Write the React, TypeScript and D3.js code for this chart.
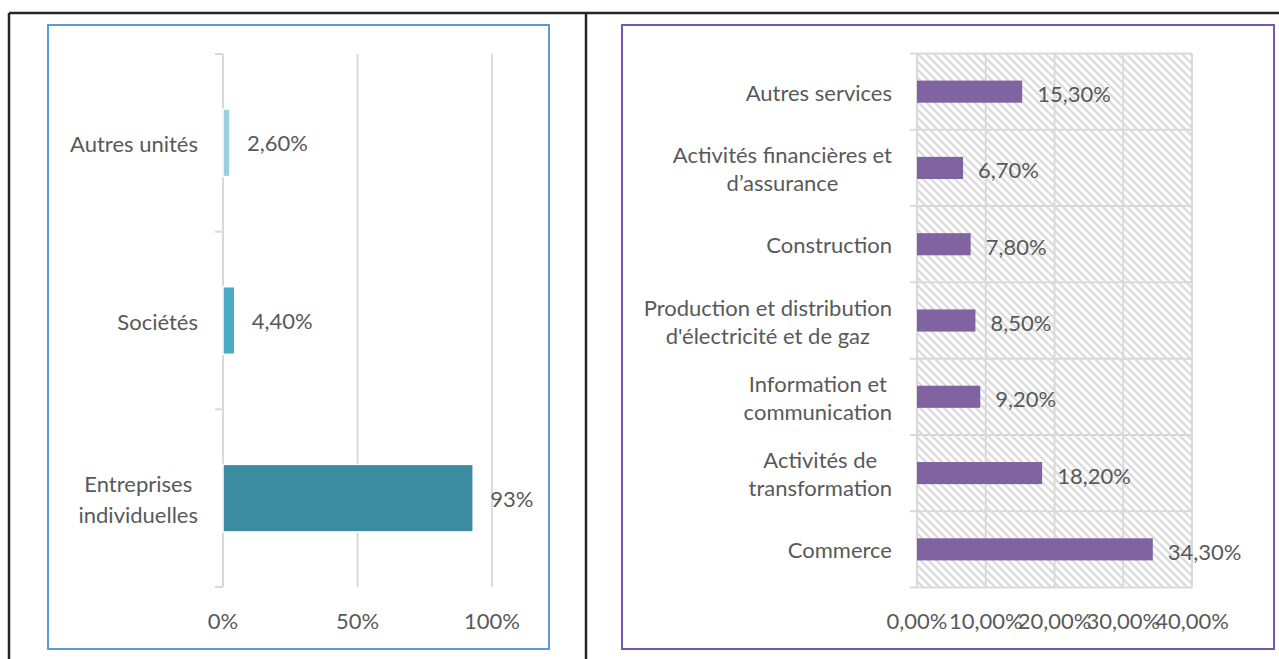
import React from "react";
import * as d3 from "d3";

// left panel: type d'unités
const leftCategories = ["Autres unités", "Sociétés", "Entreprises\nindividuelles"];
const leftValues = [0.026, 0.044, 0.93];
const leftLabels = ["2,60%", "4,40%", "93%"];
const leftColors = ["#9ccfdc", "#4aabc4", "#3b8ca1"];
const leftTicks = [0, 0.5, 1];
const leftTickLabels = ["0%", "50%", "100%"];

// right panel: secteurs
const rightCategories = [
  "Autres services",
  "Activités financières et\nd’assurance",
  "Construction",
  "Production et distribution\nd'électricité et de gaz",
  "Information et\ncommunication",
  "Activités de\ntransformation",
  "Commerce",
];
const rightValues = [0.153, 0.067, 0.078, 0.085, 0.092, 0.182, 0.343];
const rightLabels = ["15,30%", "6,70%", "7,80%", "8,50%", "9,20%", "18,20%", "34,30%"];
const rightTicks = [0, 0.1, 0.2, 0.3, 0.4];
const rightTickLabels = ["0,00%", "10,00%", "20,00%", "30,00%", "40,00%"];

const W = 1279;
const H = 659;
const FONT = "Lato, 'Open Sans', sans-serif";
const TEXT = "#595959";
const GRID = "#d9d9d9";
const FS = 22;

let ctx: CanvasRenderingContext2D | null = null;
function textWidth(s: string) {
  if (!ctx) ctx = document.createElement("canvas").getContext("2d");
  if (!ctx) return s.length * FS * 0.5;
  ctx.font = `${FS}px ${FONT}`;
  return ctx.measureText(s).width;
}

function CatLabel({ label, right, cy, lh }) {
  const lines = label.split("\n");
  const maxW = Math.max(...lines.map(textWidth));
  const multi = lines.length > 1;
  const x = multi ? right - maxW / 2 : right;
  const y0 = cy - ((lines.length - 1) * lh) / 2;
  return (
    <text x={x} textAnchor={multi ? "middle" : "end"} dominantBaseline="central" fill={TEXT}>
      {lines.map((l, i) => (
        <tspan key={i} x={x} y={y0 + i * lh}>{l}</tspan>
      ))}
    </text>
  );
}

function LeftChart() {
  const x = d3.scaleLinear().domain([0, 1]).range([223, 492]);
  const y = d3.scaleBand().domain(leftCategories).range([54, 587]).paddingInner(0.62).paddingOuter(0.31);
  const yb = d3.scaleBand().domain(leftCategories).range([54, 587]);
  const bounds = [...leftCategories.map((c) => yb(c)), 587];
  return (
    <g>
      <rect x={48} y={25} width={501} height={624} fill="#fff" stroke="#5b9bd5" strokeWidth={2} />
      {leftTicks.slice(1).map((t) => (
        <line key={t} x1={x(t)} x2={x(t)} y1={54} y2={587} stroke={GRID} strokeWidth={2} />
      ))}
      <line x1={x(0)} x2={x(0)} y1={54} y2={587} stroke={GRID} strokeWidth={2} />
      {bounds.map((b, i) => (
        <line key={i} x1={x(0) - 8} x2={x(0)} y1={b} y2={b} stroke={GRID} strokeWidth={2} />
      ))}
      {leftCategories.map((c, i) => (
        <rect key={c} x={x(0)} y={y(c)} width={x(leftValues[i]) - x(0)} height={y.bandwidth()}
          fill={leftColors[i]} stroke="#fff" strokeWidth={1.5} />
      ))}
      {leftCategories.map((c, i) => (
        <text key={c} x={x(leftValues[i]) + 17} y={y(c) + y.bandwidth() / 2} dominantBaseline="central" fill={TEXT}>
          {leftLabels[i]}
        </text>
      ))}
      {leftCategories.map((c) => (
        <CatLabel key={c} label={c} right={198} cy={yb(c) + yb.bandwidth() / 2} lh={31} />
      ))}
      {leftTicks.map((t, i) => (
        <text key={t} x={x(t)} y={620} textAnchor="middle" dominantBaseline="central" fill={TEXT}>
          {leftTickLabels[i]}
        </text>
      ))}
    </g>
  );
}

function RightChart() {
  const x = d3.scaleLinear().domain([0, 0.4]).range([917, 1192]);
  const yb = d3.scaleBand().domain(rightCategories).range([53.5, 587.5]);
  const y = d3.scaleBand().domain(rightCategories).range([53.5, 587.5]).paddingInner(0.71).paddingOuter(0.355);
  const bounds = [...rightCategories.map((c) => yb(c)), 587.5];
  return (
    <g>
      <defs>
        <pattern id="hatch" width={8} height={8} patternUnits="userSpaceOnUse">
          <rect width={8} height={8} fill="#fff" />
          <path d="M-2,-2L10,10M-2,6L2,10M6,-2L10,2" stroke="#dcdcdc" strokeWidth={2.4} />
        </pattern>
      </defs>
      <rect x={622} y={25} width={652} height={624} fill="#fff" stroke="#7656ae" strokeWidth={2} />
      <rect x={x(0)} y={53.5} width={x(0.4) - x(0)} height={534} fill="url(#hatch)" />
      {rightTicks.map((t) => (
        <line key={t} x1={x(t)} x2={x(t)} y1={53.5} y2={587.5} stroke={GRID} strokeWidth={2} />
      ))}
      {bounds.map((b, i) => (
        <line key={i} x1={x(0) - 7} x2={x(0.4)} y1={b} y2={b} stroke={GRID} strokeWidth={2} />
      ))}
      {rightCategories.map((c, i) => (
        <rect key={c} x={x(0)} y={y(c)} width={x(rightValues[i]) - x(0)} height={y.bandwidth()} fill="#8064a2" />
      ))}
      {rightCategories.map((c, i) => (
        <text key={c} x={x(rightValues[i]) + 15} y={y(c) + y.bandwidth() / 2 + 2} dominantBaseline="central" fill={TEXT}>
          {rightLabels[i]}
        </text>
      ))}
      {rightCategories.map((c) => (
        <CatLabel key={c} label={c} right={892} cy={yb(c) + yb.bandwidth() / 2} lh={28} />
      ))}
      {rightTicks.map((t, i) => (
        <text key={t} x={x(t)} y={620} textAnchor="middle" dominantBaseline="central" fill={TEXT}>
          {rightTickLabels[i]}
        </text>
      ))}
    </g>
  );
}

export default function App() {
  return (
    <div style={{ position: "fixed", left: 0, top: 0 }}>
      <svg width={W} height={H} viewBox={`0 0 ${W} ${H}`} style={{ display: "block", fontFamily: FONT, fontSize: FS }}>
        <rect width={W} height={H} fill="#fff" />
        <line x1={9} x2={W} y1={13} y2={13} stroke="#262626" strokeWidth={2.5} />
        <line x1={9} x2={9} y1={13} y2={H} stroke="#262626" strokeWidth={2.5} />
        <line x1={586} x2={586} y1={13} y2={H} stroke="#262626" strokeWidth={2.5} />
        <LeftChart />
        <RightChart />
      </svg>
    </div>
  );
}
